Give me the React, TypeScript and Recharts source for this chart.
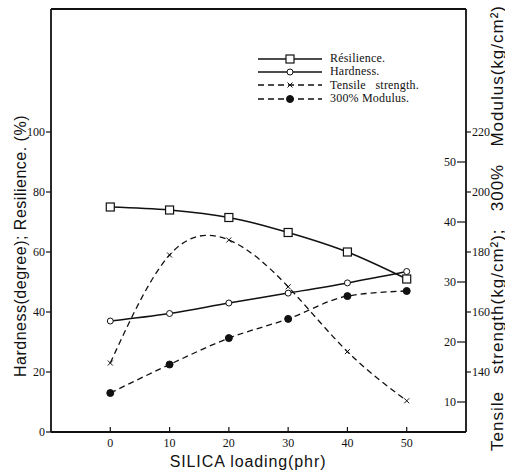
import { ComposedChart, Line, XAxis, YAxis, Legend, ReferenceLine } from 'recharts'

// SILICA loading (phr)
const loading = [0, 10, 20, 30, 40, 50]
// left scale: hardness (degree) and resilience (%)
const resilience = [75, 74, 71.5, 66.5, 60, 51]
const hardness = [37, 39.5, 43, 46.3, 49.7, 53.5]
// right scales: tensile strength and 300% modulus (kg/cm²)
const tensile = [16.5, 34.5, 37, 29.2, 18.4, 10.2]
const modulus = [133, 142.5, 151.3, 157.7, 165.3, 167]

const xTicks = [0, 10, 20, 30, 40, 50]
const leftTicks = [0, 20, 40, 60, 80, 100]
const tensileTicks = [10, 20, 30, 40, 50]
const modulusTicks = [140, 160, 180, 200, 220]

const data = loading.map((x, i) => ({
  x,
  resilience: resilience[i],
  hardness: hardness[i],
  tensile: tensile[i],
  modulus: modulus[i],
}))

const INK = '#111'
const SERIF = '"Liberation Serif", "DejaVu Serif", serif'
const SANS = '"Liberation Sans", Arial, sans-serif'

type Marker = 'square' | 'open' | 'cross' | 'filled'

const series: { key: string; name: string; dash?: string; marker: Marker; curve: 'monotone' | 'natural' }[] = [
  { key: 'resilience', name: 'Résilience.', marker: 'square', curve: 'monotone' },
  { key: 'hardness', name: 'Hardness.', marker: 'open', curve: 'monotone' },
  { key: 'tensile', name: 'Tensile   strength.', dash: '6 4', marker: 'cross', curve: 'natural' },
  { key: 'modulus', name: '300% Modulus.', dash: '6 4', marker: 'filled', curve: 'monotone' },
]

function drawMarker(type: Marker, cx: number, cy: number, key?: string | number) {
  if (type === 'square')
    return <rect key={key} x={cx - 4} y={cy - 4} width={8} height={8} fill="#fff" stroke={INK} strokeWidth={1.2} />
  if (type === 'open')
    return <circle key={key} cx={cx} cy={cy} r={3} fill="#fff" stroke={INK} strokeWidth={1} />
  if (type === 'filled')
    return <circle key={key} cx={cx} cy={cy} r={3.5} fill={INK} stroke={INK} />
  return (
    <g key={key} stroke={INK} strokeWidth={1}>
      <line x1={cx - 2.5} y1={cy - 2.5} x2={cx + 2.5} y2={cy + 2.5} />
      <line x1={cx - 2.5} y1={cy + 2.5} x2={cx + 2.5} y2={cy - 2.5} />
    </g>
  )
}

// bottom axis: short ticks pointing into the plot, labels underneath
const XTick = ({ x, y, payload }: any) => (
  <g>
    <line x1={x} x2={x} y1={y - 6} y2={y - 11} stroke={INK} strokeWidth={1.2} />
    <text x={x} y={y} dy={9} textAnchor="middle" fontFamily={SERIF} fontSize={12} fill={INK}>
      {payload.value}
    </text>
  </g>
)

// axis title; own prop names so the props recharts injects don't move it
const Title = ({ text, px, py, turn, anchor = 'middle', size, spacing = 0.3 }: any) => (
  <text
    x={px}
    y={py}
    transform={turn ? `rotate(-90 ${px} ${py})` : undefined}
    textAnchor={anchor}
    dominantBaseline="central"
    fontFamily={SANS}
    fontSize={size}
    letterSpacing={spacing}
    fill={INK}
    style={{ whiteSpace: 'pre' }}
  >
    {text}
  </text>
)

const LegendBox = () => (
  <div style={{ fontFamily: SERIF, fontSize: 12, color: INK, lineHeight: '13.4px' }}>
    {series.map((s) => (
      <div key={s.key} style={{ display: 'flex', alignItems: 'center', height: 13.4 }}>
        <svg width={64} height={12}>
          <line x1={0} x2={64} y1={6} y2={6} stroke={INK} strokeWidth={1.4} strokeDasharray={s.dash} />
          {drawMarker(s.marker, 32, 6)}
        </svg>
        <span style={{ marginLeft: 8, whiteSpace: 'pre', letterSpacing: 0.2 }}>{s.name}</span>
      </div>
    ))}
  </div>
)

const tickFont = { fontFamily: SERIF, fontSize: 12, fill: INK }

export default function App() {
  return (
    <div style={{ position: 'absolute', left: 0, top: 0, width: 505, height: 472, background: '#fff' }}>
      <ComposedChart width={505} height={472} data={data} margin={{ top: 9, right: 0, bottom: 0, left: 0 }}>
        <XAxis
          dataKey="x"
          type="number"
          domain={[-10, 60]}
          ticks={xTicks}
          height={40}
          stroke={INK}
          tickLine={false}
          tickSize={0}
          tickMargin={6}
          tick={<XTick />}
          axisLine={{ stroke: INK, strokeWidth: 1.8 }}
          label={<Title text="SILICA loading(phr)" px={248} py={461} size={16} spacing={0.9} />}
        />
        <YAxis
          yAxisId="left"
          type="number"
          domain={[0, 141]}
          ticks={leftTicks}
          width={51}
          stroke={INK}
          tickSize={5}
          tickMargin={1}
          tick={tickFont}
          tickLine={{ stroke: INK, strokeWidth: 1.2 }}
          axisLine={{ stroke: INK, strokeWidth: 1.8 }}
          label={<Title text="Hardness(degree); Resilience. (%)" px={20} py={246} turn size={16} spacing={0.5} />}
        />
        <YAxis
          yAxisId="tensile"
          orientation="right"
          mirror
          type="number"
          domain={[5, 75.5]}
          ticks={tensileTicks}
          stroke={INK}
          tickSize={9}
          tickMargin={1}
          tick={tickFont}
          tickLine={{ stroke: INK, strokeWidth: 1.2 }}
          axisLine={{ stroke: INK, strokeWidth: 1.8 }}
        />
        <YAxis
          yAxisId="modulus"
          orientation="right"
          type="number"
          domain={[120, 261]}
          ticks={modulusTicks}
          width={39}
          stroke={INK}
          tickSize={5}
          tickMargin={1}
          tick={tickFont}
          tickLine={{ stroke: INK, strokeWidth: 1.2 }}
          axisLine={false}
          label={
            <Title
              text="Tensile   strength(kg/cm²);   300%   Modulus(kg/cm²)"
              px={497}
              py={5}
              turn
              anchor="end"
              size={17}
              spacing={1}
            />
          }
        />
        <ReferenceLine yAxisId="left" y={141} stroke={INK} strokeWidth={1.8} />
        <Legend
          layout="vertical"
          align="center"
          verticalAlign="middle"
          content={<LegendBox />}
          wrapperStyle={{ left: 258, top: 52, width: 200 }}
        />
        {series.map((s) => (
          <Line
            key={s.key}
            yAxisId={s.key === 'tensile' ? 'tensile' : s.key === 'modulus' ? 'modulus' : 'left'}
            dataKey={s.key}
            name={s.name}
            type={s.curve}
            stroke={INK}
            strokeWidth={s.dash ? 1.3 : 1.5}
            strokeDasharray={s.dash}
            dot={(p: any) => drawMarker(s.marker, p.cx, p.cy, `${s.key}-${p.index}`)}
            activeDot={false}
            isAnimationActive={false}
          />
        ))}
      </ComposedChart>
    </div>
  )
}
